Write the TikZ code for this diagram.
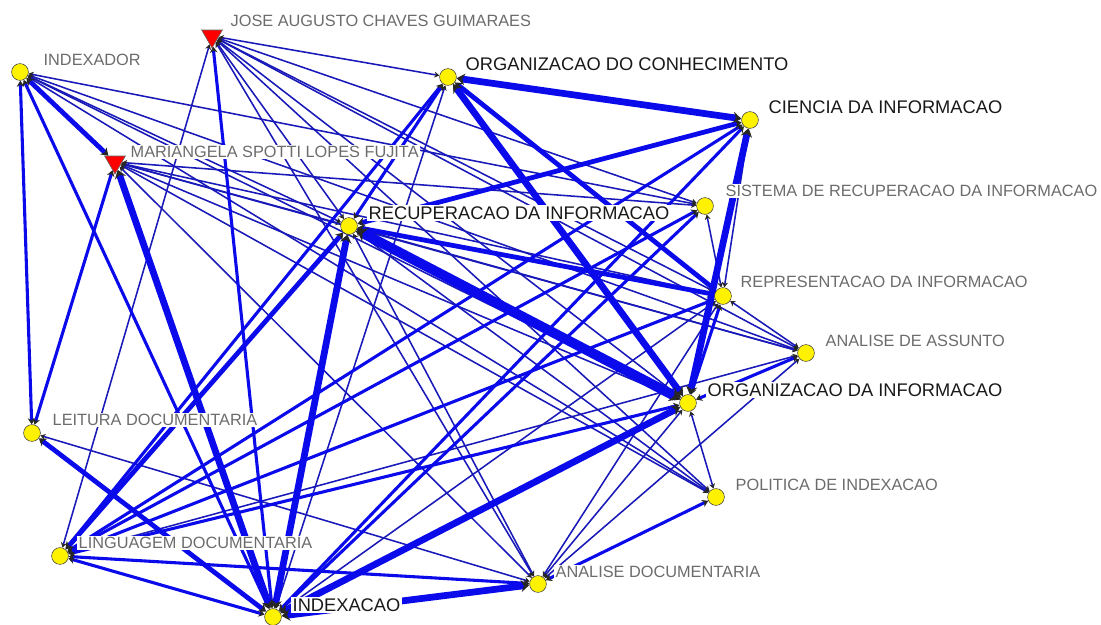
\documentclass[tikz,border=0pt]{standalone}
\usepackage{fontspec}
\setmainfont{Liberation Sans}
\usetikzlibrary{shapes.geometric,arrows.meta}
\definecolor{linkblue}{RGB}{10,10,235}
\definecolor{linknavy}{RGB}{25,25,185}
\definecolor{labgray}{RGB}{108,108,108}
\pgfdeclarelayer{edges}
\pgfsetlayers{edges,main}
\begin{document}
\begin{tikzpicture}
[
    x=0.025cm, y=-0.025cm,
    vtx/.style={circle, draw=black!75, fill=yellow, minimum size=0.42cm, inner sep=0pt},
    actor/.style={regular polygon, regular polygon sides=3, shape border rotate=180, draw=black!60, fill=red, minimum size=0.6cm, inner sep=0pt},
    glab/.style={anchor=west, fill=white, inner sep=1pt, text=labgray, font=\fontsize{11.6}{12}\selectfont},
    blab/.style={anchor=west, fill=white, inner sep=1pt, text=black!90, font=\fontsize{13}{14}\selectfont},
    tie/.style={draw=linkblue, {Stealth[length=3pt 0.6, width=3pt 1.1, color=black!85]}-{Stealth[length=3pt 0.6, width=3pt 1.1, color=black!85]}},
    thinlink/.style={tie, draw=linknavy, line width=1.1pt},
    midlink/.style={tie, line width=2.2pt},
    widelink/.style={tie, line width=3.4pt},
    heavylink/.style={tie, line width=4.8pt}
]
    \useasboundingbox (0,0) rectangle (1101,625);

    % actors and terms
    \node [vtx] (idr) at (20,72) {};
    \node [actor] (jose) at (212,36) {};
    \node [actor] (mar) at (115,162) {};
    \node [vtx] (oc) at (448,77) {};
    \node [vtx] (ci) at (750,120) {};
    \node [vtx] (sri) at (705,206) {};
    \node [vtx] (ri) at (349,226) {};
    \node [vtx] (rep) at (723,296) {};
    \node [vtx] (aa) at (806,353) {};
    \node [vtx] (oi) at (688,403) {};
    \node [vtx] (ld) at (32,433) {};
    \node [vtx] (pi) at (716,497) {};
    \node [vtx] (lgd) at (60,556) {};
    \node [vtx] (ad) at (538,584) {};
    \node [vtx] (idx) at (273,617) {};

    \begin{pgfonlayer}{edges}
    \begin{scope}[thinlink]
        \draw (jose) -- (oc);
        \draw (jose) -- (ri);
        \draw (jose) -- (rep);
        \draw (jose) -- (oi);
        \draw (jose) -- (aa);
        \draw (jose) -- (ad);
        \draw (jose) -- (pi);
        \draw (jose) -- (lgd);
        \draw (jose) -- (sri);
        \draw (idr) -- (ri);
        \draw (idr) -- (aa);
        \draw (idr) -- (sri);
        \draw (idr) -- (pi);
        \draw (idr) -- (oi);
        \draw (mar) -- (sri);
        \draw (mar) -- (ri);
        \draw (mar) -- (rep);
        \draw (mar) -- (aa);
        \draw (mar) -- (oi);
        \draw (mar) -- (ad);
        \draw (mar) -- (pi);
        \draw (ld) -- (ad);
        \draw (rep) -- (sri);
        \draw (ci) -- (rep);
        \draw (rep) -- (aa);
        \draw (oi) -- (pi);
        \draw (ad) -- (oi);
        \draw (ad) -- (rep);
        \draw (ad) -- (aa);
        \draw (ri) -- (ad);
        \draw (ri) -- (pi);
        \draw (ri) -- (aa);
        \draw (idx) -- (oc);
        \draw (idx) -- (rep);
        \draw (lgd) -- (aa);
    \end{scope}

    \begin{scope}[midlink]
        \draw (lgd) -- (idx);
        \draw (lgd) -- (ad);
        \draw (lgd) -- (oi);
        \draw (lgd) -- (ci);
        \draw (lgd) -- (oc);
        \draw (lgd) -- (sri);
        \draw (lgd) -- (rep);
        \draw (ri) -- (oc);
        \draw (oi) -- (aa);
        \draw (oi) -- (rep);
        \draw (idr) -- (idx);
        \draw (idr) -- (ld);
        \draw (jose) -- (idx);
        \draw (mar) -- (ld);
        \draw (idx) -- (ci);
        \draw (idx) -- (sri);
        \draw (ad) -- (pi);
    \end{scope}

    \begin{scope}[widelink]
        \draw (oc) -- (rep);
        \draw (ri) -- (ci);
        \draw (ri) -- (lgd);
        \draw (ri) -- (rep);
        \draw (idr) -- (mar);
        \draw (ld) -- (idx);
    \end{scope}

    \begin{scope}[heavylink]
        \draw (oc) -- (ci);
        \draw (oc) -- (oi);
        \draw (mar) -- (idx);
        \draw (ri) -- (idx);
        \draw (oi) -- (idx);
        \draw (ad) -- (idx);
        \draw (ci) -- (oi);
        \draw [line width=7pt] (ri) -- (oi);
    \end{scope}
    \end{pgfonlayer}

    % labels
    \node [glab] (tidr) at (42,60) {INDEXADOR};
    \node [glab] (tjose) at (229,21) {JOSE AUGUSTO CHAVES GUIMARAES};
    \node [glab] (tmar) at (129,152) {MARIANGELA SPOTTI LOPES FUJITA};
    \node [blab] (toc) at (464,64) {ORGANIZACAO DO CONHECIMENTO};
    \node [blab] (tci) at (767,107) {CIENCIA DA INFORMACAO};
    \node [glab] (tsri) at (724,191) {SISTEMA DE RECUPERACAO DA INFORMACAO};
    \node [blab] (tri) at (367,213) {RECUPERACAO DA INFORMACAO};
    \node [glab] (trep) at (739,282) {REPRESENTACAO DA INFORMACAO};
    \node [glab] (taa) at (824,341) {ANALISE DE ASSUNTO};
    \node [blab] (toi) at (706,390) {ORGANIZACAO DA INFORMACAO};
    \node [glab] (tld) at (51,420) {LEITURA DOCUMENTARIA};
    \node [glab] (tpi) at (734,485) {POLITICA DE INDEXACAO};
    \node [glab] (tlgd) at (77,543) {LINGUAGEM DOCUMENTARIA};
    \node [glab] (tad) at (554,572) {ANALISE DOCUMENTARIA};
    \node [blab] (tidx) at (291,605) {INDEXACAO};
\end{tikzpicture}
\end{document}
